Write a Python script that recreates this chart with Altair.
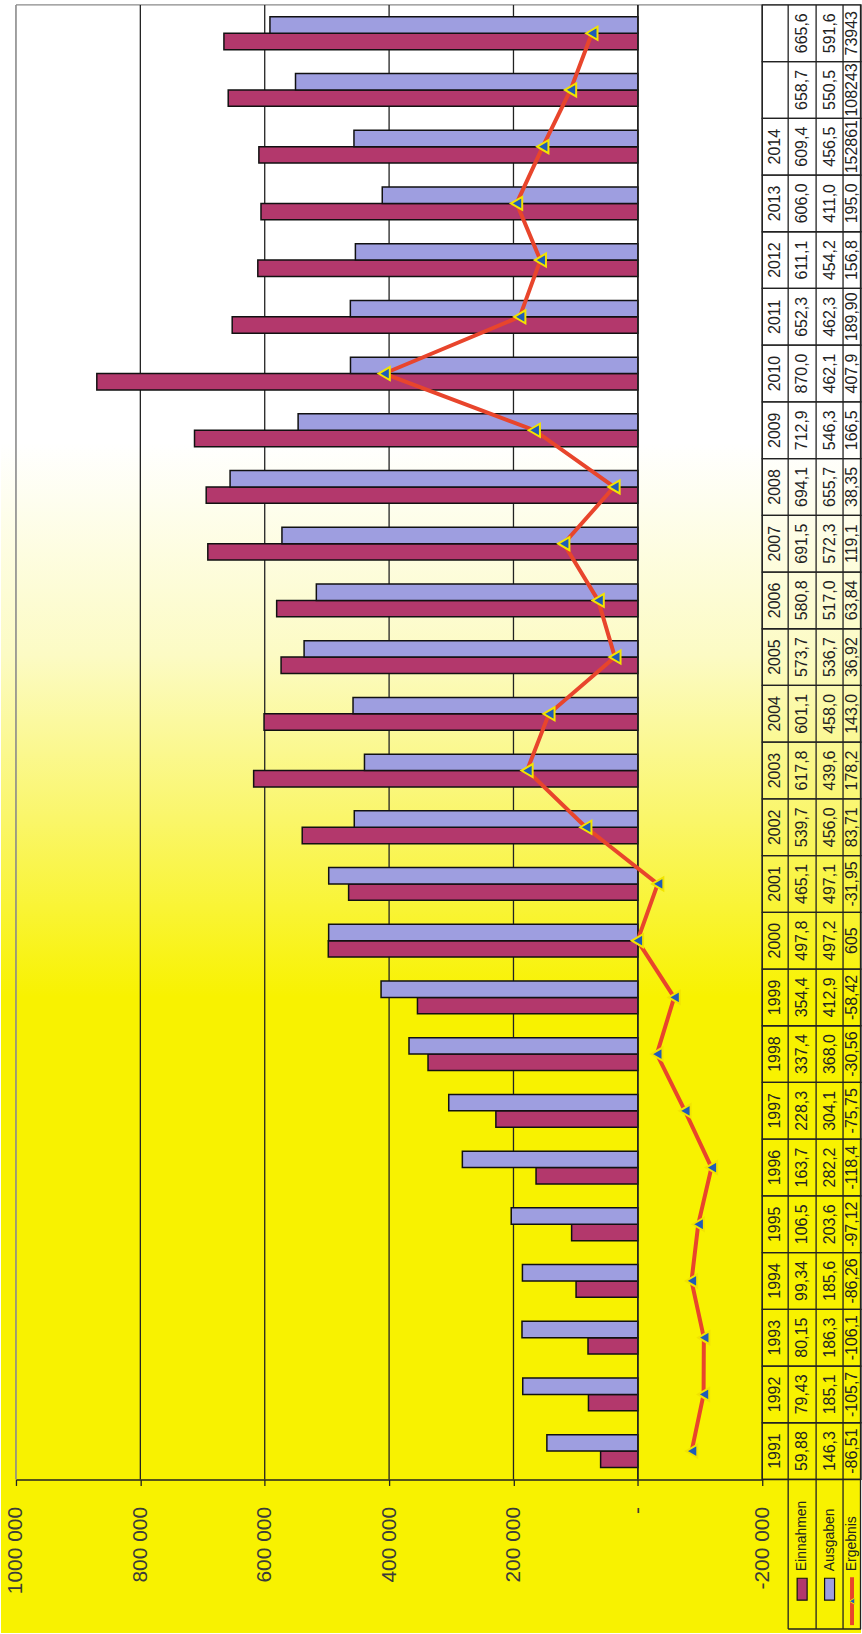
import altair as alt
import pandas as pd

# ---------------- data ----------------
years = [str(y) for y in range(1991, 2017)]
year_labels = [str(y) for y in range(1991, 2015)] + ["", ""]

einnahmen = [59880, 79430, 80150, 99340, 106500, 163700, 228300, 337400, 354400,
             497800, 465100, 539700, 617800, 601100, 573700, 580800, 691500,
             694100, 712900, 870000, 652300, 611100, 606000, 609400, 658700, 665600]
ausgaben = [146300, 185100, 186300, 185600, 203600, 282200, 304100, 368000, 412900,
            497200, 497100, 456000, 439600, 458000, 536700, 517000, 572300,
            655700, 546300, 462100, 462300, 454200, 411000, 456500, 550500, 591600]
ergebnis = [-86510, -105700, -106100, -86260, -97120, -118400, -75750, -30560,
            -58420, 605, -31950, 83710, 178200, 143000, 36920, 63840, 119100,
            38350, 166500, 407900, 189900, 156800, 195000, 152861, 108243, 73943]

einnahmen_text = ["59,88", "79,43", "80,15", "99,34", "106,5", "163,7", "228,3",
                  "337,4", "354,4", "497,8", "465,1", "539,7", "617,8", "601,1",
                  "573,7", "580,8", "691,5", "694,1", "712,9", "870,0", "652,3",
                  "611,1", "606,0", "609,4", "658,7", "665,6"]
ausgaben_text = ["146,3", "185,1", "186,3", "185,6", "203,6", "282,2", "304,1",
                 "368,0", "412,9", "497,2", "497,1", "456,0", "439,6", "458,0",
                 "536,7", "517,0", "572,3", "655,7", "546,3", "462,1", "462,3",
                 "454,2", "411,0", "456,5", "550,5", "591,6"]
ergebnis_text = ["-86,51", "-105,7", "-106,1", "-86,26", "-97,12", "-118,4",
                 "-75,75", "-30,56", "-58,42", "605", "-31,95", "83,71", "178,2",
                 "143,0", "36,92", "63,84", "119,1", "38,35", "166,5", "407,9",
                 "189,90", "156,8", "195,0", "152861", "108243", "73943"]

series_names = ["Einnahmen", "Ausgaben", "Ergebnis"]
value_ticks = [-200000, 0, 200000, 400000, 600000, 800000, 1000000]

# ---------------- styling ----------------
FONT = "Liberation Sans"
RED_BAR = "#B3386C"
BLUE_BAR = "#9E9EE0"
LINE_RED = "#E8452C"
MARK_BLUE = "#1F5CB8"
MARK_YELLOW = "#F2E400"
YELLOW = "#F8F200"
INK = "#222222"
BORDER = "#8a8a8a"

W, H = 748, 1478  # plot area

bars_df = pd.DataFrame(
    [{"year": y, "series": "Einnahmen", "value": v} for y, v in zip(years, einnahmen)]
    + [{"year": y, "series": "Ausgaben", "value": v} for y, v in zip(years, ausgaben)]
)
line_df = pd.DataFrame({"year": years, "value": ergebnis, "idx": list(range(len(years)))})
table_df = pd.DataFrame({
    "year": years,
    "ylab": year_labels,
    "ein": einnahmen_text,
    "aus": ausgaben_text,
    "erg": ergebnis_text,
})
grid_df = pd.DataFrame({"v": [v for v in value_ticks if v != max(value_ticks)]})
one = pd.DataFrame({"k": [0]})

x_scale = alt.Scale(domain=[-200000, 1000000], reverse=True, nice=False)
y_scale = alt.Scale(domain=list(reversed(years)), paddingInner=0, paddingOuter=0)

label_expr = ("datum.value == 0 ? '-\u00a0\u00a0\u00a0' : "
              "(datum.value < 0 ? '-' : '') + format(abs(datum.value) / 1000, 'd') + ' 000'")
x_axis = alt.Axis(values=value_ticks, grid=False, zindex=1,
                  domainColor=INK, domainWidth=1.5, tickColor=INK, tickSize=6,
                  tickWidth=1.3, labelAngle=270, labelPadding=21, labelFont=FONT,
                  labelFontSize=21, labelColor="#3a3a3a", labelExpr=label_expr,
                  title=None, orient="bottom")

Y = alt.Y("year:N", scale=y_scale, axis=None)

# background gradient (white at top -> yellow at bottom)
bg = alt.Chart(one).mark_rect(
    fill=alt.LinearGradient(
        gradient="linear", x1=0, x2=0, y1=0, y2=1,
        stops=[alt.GradientStop(offset=0, color="#FFFFFF"),
               alt.GradientStop(offset=0.27, color="#FFFFFF"),
               alt.GradientStop(offset=0.40, color="#FCFBC4"),
               alt.GradientStop(offset=0.50, color="#FAF66A"),
               alt.GradientStop(offset=0.61, color=YELLOW),
               alt.GradientStop(offset=1, color=YELLOW)]),
    stroke="transparent",
).encode(x=alt.value(-15), x2=alt.value(W + 99), y=alt.value(-2), y2=alt.value(H + 154))

# plot border (top and left, grey)
border = alt.layer(
    alt.Chart(one).mark_rule(color=BORDER, strokeWidth=1.2).encode(
        x=alt.value(0), x2=alt.value(W + 99), y=alt.value(0), y2=alt.value(0)),
    alt.Chart(one).mark_rule(color=BORDER, strokeWidth=1.6).encode(
        x=alt.value(0), y=alt.value(0), y2=alt.value(H)),
)

grid = alt.Chart(grid_df).mark_rule(color=INK, strokeWidth=1.3).encode(
    x=alt.X("v:Q", scale=x_scale, axis=x_axis))

bars = alt.Chart(bars_df).mark_bar(stroke="#111111", strokeWidth=1.5).encode(
    x=alt.X("value:Q", scale=x_scale, axis=x_axis),
    x2=alt.datum(0),
    y=Y,
    yOffset=alt.YOffset("series:N", sort=["Ausgaben", "Einnahmen"],
                        scale=alt.Scale(paddingInner=0, paddingOuter=0.73)),
    color=alt.Color("series:N", scale=alt.Scale(domain=["Einnahmen", "Ausgaben"],
                                                range=[RED_BAR, BLUE_BAR]), legend=None),
)

zero_rule = alt.Chart(one).mark_rule(color=INK, strokeWidth=1.5).encode(
    x=alt.datum(0, scale=x_scale, axis=x_axis))

line = alt.Chart(line_df).mark_line(color=LINE_RED, strokeWidth=4).encode(
    x=alt.X("value:Q", scale=x_scale, axis=x_axis), y=Y, order="idx:Q")
points = alt.Chart(line_df).mark_point(
    shape="triangle-left", filled=True, fill=MARK_BLUE, stroke=MARK_YELLOW,
    strokeWidth=2, size=170, opacity=1).encode(
    x=alt.X("value:Q", scale=x_scale, axis=x_axis), y=Y)

# ---------------- data table (right side) ----------------
cells = alt.Chart(table_df).mark_rect(fillOpacity=0, stroke=INK, strokeWidth=1.3).encode(
    x=alt.value(W), x2=alt.value(W + 99), y=Y)

col_x = [W + 26, W + 54, W + 81]
vlines = alt.layer(*[
    alt.Chart(one).mark_rule(color=INK, strokeWidth=1.3).encode(
        x=alt.value(cx), y=alt.value(0), y2=alt.value(H + 150))
    for cx in col_x + [W + 98.5]
])
hlines = alt.layer(
    alt.Chart(one).mark_rule(color=INK, strokeWidth=1.5).encode(
        x=alt.value(W), x2=alt.value(W + 99), y=alt.value(H), y2=alt.value(H)),
    alt.Chart(one).mark_rule(color=INK, strokeWidth=1.5).encode(
        x=alt.value(W + 26), x2=alt.value(W + 99), y=alt.value(H + 150), y2=alt.value(H + 150)),
)

def col_text(field, cx):
    return alt.Chart(table_df).mark_text(
        angle=270, align="center", baseline="middle", font=FONT, fontSize=16,
        color=INK).encode(x=alt.value(cx), y=Y, text=f"{field}:N")

texts = alt.layer(
    col_text("ylab", W + 13),
    col_text("ein", W + 40),
    col_text("aus", W + 67.5),
    col_text("erg", W + 90),
)

# legend (row headers of the table)
legend_text = alt.layer(*[
    alt.Chart(one).mark_text(angle=270, align="left", baseline="middle", font=FONT,
                             fontSize=14, color=INK, text=name).encode(
        x=alt.value(cx), y=alt.value(H + 92))
    for name, cx in zip(series_names, [W + 40, W + 67.5, W + 90])
])
swatches = alt.layer(
    alt.Chart(one).mark_rect(fill=RED_BAR, stroke="#111111", strokeWidth=1.2).encode(
        x=alt.value(W + 35), x2=alt.value(W + 45), y=alt.value(H + 99), y2=alt.value(H + 121)),
    alt.Chart(one).mark_rect(fill=BLUE_BAR, stroke="#111111", strokeWidth=1.2).encode(
        x=alt.value(W + 62.5), x2=alt.value(W + 72.5), y=alt.value(H + 99), y2=alt.value(H + 121)),
    alt.Chart(one).mark_rule(color=LINE_RED, strokeWidth=4).encode(
        x=alt.value(W + 90), y=alt.value(H + 98), y2=alt.value(H + 146)),
    alt.Chart(one).mark_point(shape="triangle-left", filled=True, fill=MARK_BLUE,
                              stroke=MARK_YELLOW, strokeWidth=1, size=40, opacity=1).encode(
        x=alt.value(W + 90), y=alt.value(H + 122)),
)

chart = alt.layer(
    bg, border, grid, bars, zero_rule, line, points, cells, vlines, hlines, texts,
    legend_text, swatches
).properties(
    width=W, height=H, padding=0
).configure_view(stroke=None)

chart.save("out.html", embed_options={"renderer": "svg", "actions": False})
